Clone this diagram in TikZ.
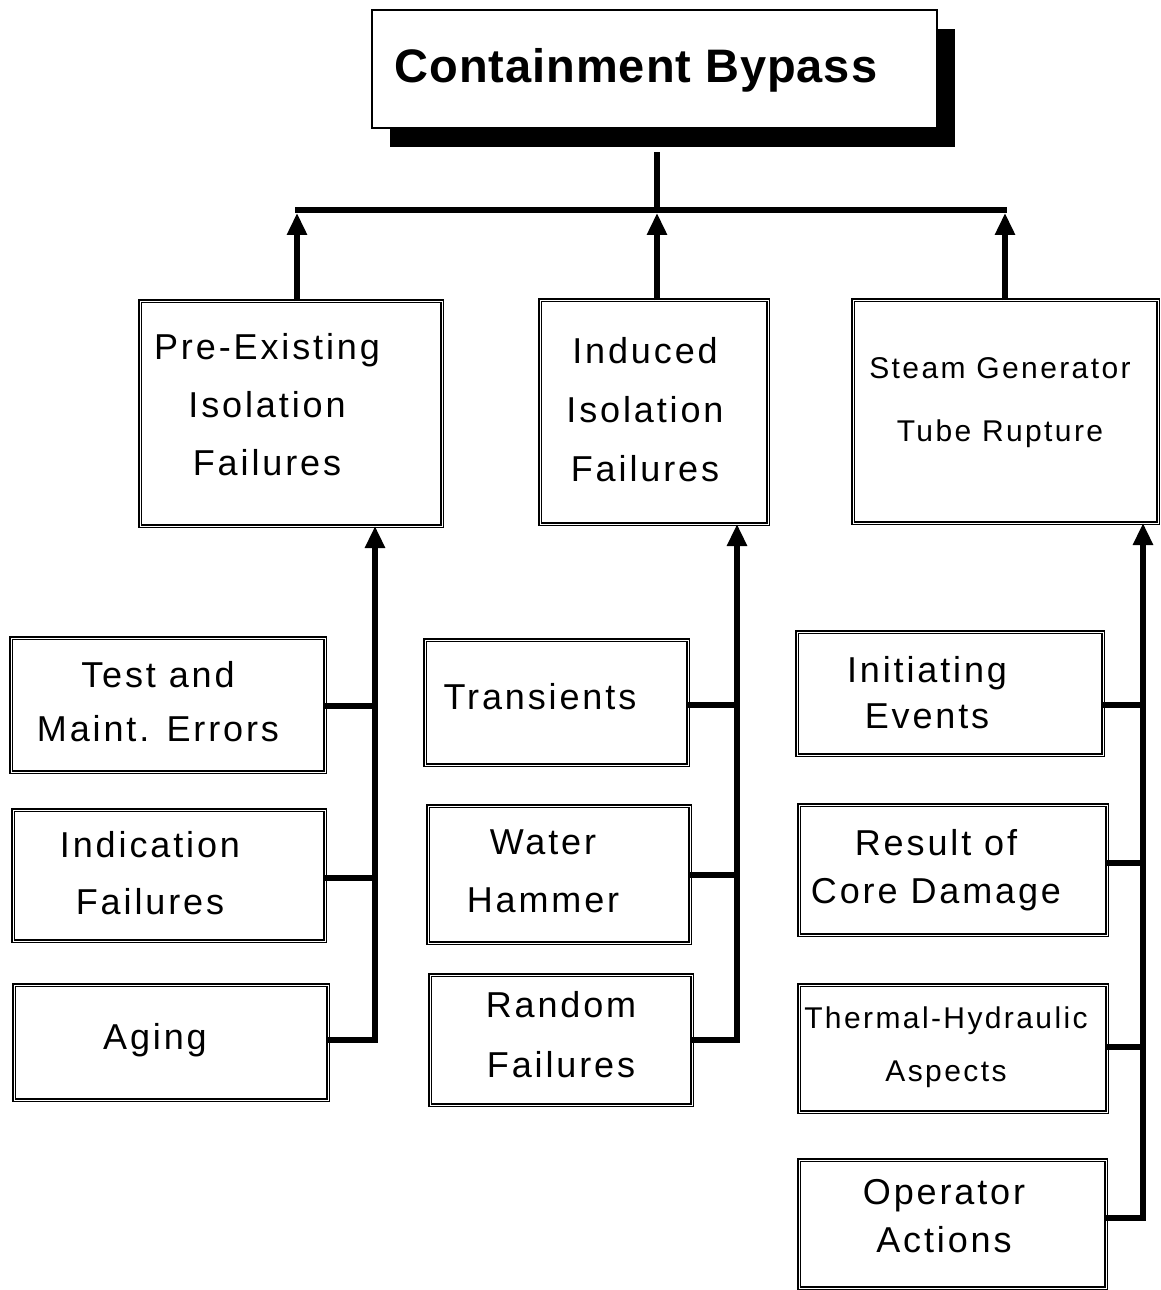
\documentclass[tikz,border=0pt]{standalone}
\usepackage{fontspec}
\setmainfont{Liberation Sans}
\newfontfamily\lblfont{Liberation Sans}[LetterSpace=8]
\newfontfamily\titlefont{Liberation Sans}[LetterSpace=2]
\usetikzlibrary{arrows.meta,shadows}
\begin{document}
\begin{tikzpicture}[x=1pt,y=-1pt,
 bx/.style 2 args={draw, line width=1.3pt, double, double distance=0.9pt, fill=white,
   minimum width=#1, minimum height=#2, inner sep=0pt, outer sep=0pt},
 txt/.style={align=center, inner sep=0pt, font=\lblfont\fontsize{36}{#1}\selectfont},
 stxt/.style={align=center, inner sep=0pt, font=\lblfont\fontsize{30}{#1}\selectfont},
 conn/.style={line width=5.8pt},
 arr/.style={line width=5.8pt, line join=miter, -{Triangle[length=22pt,width=19pt]}},
]
\useasboundingbox[fill=white] (0,0) rectangle (1161,1290);

% top
\node[draw, line width=2.4pt, fill=white, minimum width=565pt, minimum height=118pt,
  inner sep=0pt, outer sep=0pt,
  drop shadow={shadow xshift=18pt, shadow yshift=-19pt, fill=black, opacity=1}]
  (top) at (654.5,69) {};
\node[inner sep=0pt, font=\titlefont\bfseries\fontsize{47}{50}\selectfont] (topT) at (636,70) {Containment Bypass};

% level 2
\node[bx={302pt}{225pt}] (pre) at (291,413.5) {};
\node[bx={228pt}{224pt}] (ind) at (654,412) {};
\node[bx={305pt}{223pt}] (sg) at (1005.5,411.5) {};
\node[txt=58pt] (preT) at (267,405) {Pre-Existing\\Isolation\\Failures};
\node[txt=59pt] (indT) at (645,410) {Induced\\Isolation\\Failures};
\node[stxt=63pt] (sgT) at (1000,403) {Steam Generator\\Tube Rupture};

% left column
\node[bx={314pt}{134pt}] (test) at (168,705) {};
\node[bx={312pt}{131pt}] (indic) at (169,875.5) {};
\node[bx={314pt}{115pt}] (aging) at (171,1042.5) {};
\node[txt=54pt] (testT) at (158,702) {Test and\\Maint. Errors};
\node[txt=57pt] (indicT) at (150,873) {Indication\\Failures};
\node[txt=50pt] (agingT) at (155,1040) {Aging};

% middle column
\node[bx={263pt}{125pt}] (trans) at (556.5,702.5) {};
\node[bx={262pt}{137pt}] (water) at (559,874.5) {};
\node[bx={262pt}{130pt}] (rand) at (561,1040) {};
\node[txt=50pt] (transT) at (540,697) {Transients};
\node[txt=58pt] (waterT) at (543,871) {Water\\Hammer};
\node[txt=60pt] (randT) at (561,1035) {Random\\Failures};

% right column
\node[bx={306pt}{123pt}] (init) at (950,693.5) {};
\node[bx={308pt}{130pt}] (res) at (953,870) {};
\node[bx={308pt}{127pt}] (therm) at (953,1048.5) {};
\node[bx={307pt}{128pt}] (oper) at (952.5,1224) {};
\node[txt=46pt] (initT) at (927,693) {Initiating\\Events};
\node[txt=48pt] (resT) at (936,870) {Result of\\Core Damage};
\node[stxt=53pt] (thermT) at (946,1047) {Thermal-Hydraulic\\Aspects};
\node[txt=48pt] (operT) at (944,1216) {Operator\\Actions};

% top tree
\coordinate (bL) at (297,210);
\coordinate (bM) at (657,210);
\coordinate (bR) at (1007,210);
\draw[conn] (bM |- top.south) ++(0,24) -- (bM);
\draw[conn] ([xshift=-2pt]bL) -- (bR);
\draw[arr] (pre.north -| bL) -- ([yshift=-2.9pt]bL);
\draw[arr] (ind.north -| bM) -- ([yshift=-2.9pt]bM);
\draw[arr] (sg.north -| 1005,0) -- ([yshift=-2.9pt]1005,210);

% spines
\coordinate (sL) at (375,0);
\coordinate (sM) at (737,0);
\coordinate (sR) at (1143,0);
\draw[arr] (aging.east |- 0,1040) -| (pre.south -| sL);
\draw[conn] (test.east |- 0,706) -- (sL |- 0,706);
\draw[conn] (indic.east |- 0,878) -- (sL |- 0,878);

\draw[arr] (rand.east |- 0,1040) -| (ind.south -| sM);
\draw[conn] (trans.east |- 0,705) -- (sM |- 0,705);
\draw[conn] (water.east |- 0,875) -- (sM |- 0,875);

\draw[arr] (oper.east |- 0,1218) -| (sg.south -| sR);
\draw[conn] (init.east |- 0,705) -- (sR |- 0,705);
\draw[conn] (res.east |- 0,863) -- (sR |- 0,863);
\draw[conn] (therm.east |- 0,1047) -- (sR |- 0,1047);
\end{tikzpicture}
\end{document}
